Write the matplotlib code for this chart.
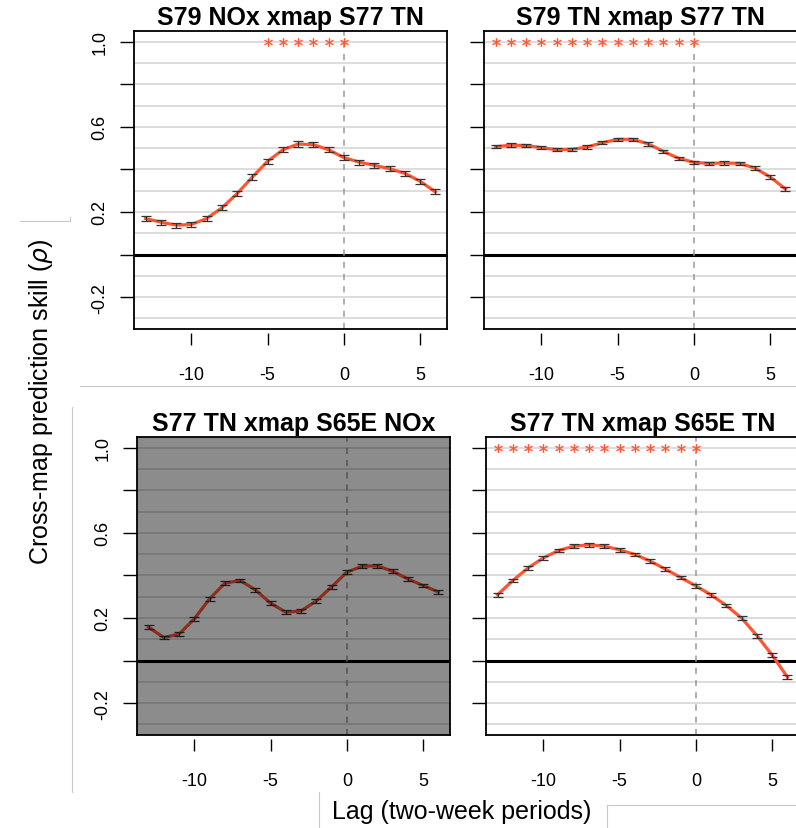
import numpy as np
import matplotlib
matplotlib.use("Agg")
import matplotlib.pyplot as plt
from matplotlib.patches import Rectangle
from matplotlib.lines import Line2D

plt.rcParams['font.family'] = ['Liberation Sans', 'DejaVu Sans']
plt.rcParams['axes.unicode_minus'] = False

# lags (two-week periods)
lags = list(range(-13, 7))

# cross-map skill for each panel
rho_nox79_tn77 = [0.169, 0.152, 0.138, 0.141, 0.169, 0.219, 0.286, 0.364, 0.438, 0.492,
                  0.519, 0.516, 0.492, 0.455, 0.434, 0.419, 0.403, 0.381, 0.344, 0.294]
rho_tn79_tn77 = [0.506, 0.514, 0.512, 0.502, 0.492, 0.494, 0.505, 0.525, 0.541, 0.541,
                 0.520, 0.484, 0.452, 0.433, 0.428, 0.430, 0.428, 0.406, 0.364, 0.308]
rho_tn77_nox65 = [0.156, 0.108, 0.124, 0.196, 0.290, 0.363, 0.376, 0.332, 0.269, 0.227,
                  0.233, 0.280, 0.346, 0.415, 0.443, 0.445, 0.419, 0.383, 0.352, 0.322]
rho_tn77_tn65 = [0.309, 0.376, 0.435, 0.482, 0.517, 0.537, 0.544, 0.537, 0.520, 0.498,
                 0.467, 0.429, 0.390, 0.350, 0.308, 0.258, 0.199, 0.117, 0.025, -0.078]

# error bar half-widths
err_nox79_tn77 = [0.012] * 20
err_tn79_tn77 = [0.008] * 20
err_tn77_nox65 = [0.009] * 20
err_tn77_tn65 = [0.009] * 20

# lags flagged as significant
sig_nox79_tn77 = [-5, -4, -3, -2, -1, 0]
sig_tn79_tn77 = list(range(-13, 1))
sig_tn77_nox65 = []
sig_tn77_tn65 = list(range(-13, 1))

titles = ['S79 NOx xmap S77 TN', 'S79 TN xmap S77 TN',
          'S77 TN xmap S65E NOx', 'S77 TN xmap S65E TN']

line_col = '#FF5533'
W, H = 796, 829
fig = plt.figure(figsize=(W / 100, H / 100), dpi=100)

boxes = [(134, 32), (484, 32), (137, 438), (486, 438)]
panels = [
    (rho_nox79_tn77, err_nox79_tn77, sig_nox79_tn77),
    (rho_tn79_tn77, err_tn79_tn77, sig_tn79_tn77),
    (rho_tn77_nox65, err_tn77_nox65, sig_tn77_nox65),
    (rho_tn77_tn65, err_tn77_tn65, sig_tn77_tn65),
]

for i, ((x0, y0), (rho, err, sig)) in enumerate(zip(boxes, panels)):
    ax = fig.add_axes([x0 / W, 1 - (y0 + 298) / H, 313 / W, 298 / H])
    ax.set_xlim(-13.76, 6.76)
    ax.set_ylim(-0.35, 1.05)
    for g in np.arange(-0.3, 1.01, 0.1):
        ax.axhline(g, color='#d3d3d3', lw=1.1, zorder=1)
    ax.axhline(0, color='black', lw=2.2, zorder=2)
    ax.axvline(0, color='#999999', lw=1.1, ls=(0, (4, 4)), zorder=2)
    ax.plot(lags, rho, color=line_col, lw=2.3, zorder=3)
    ax.errorbar(lags, rho, yerr=err, fmt='none', ecolor='#333333',
                elinewidth=0.9, capsize=3.5, capthick=0.9, zorder=4)
    if sig:
        ax.plot(sig, [1.0] * len(sig), ls='none', marker='$*$',
                ms=6, mew=0.3, color=line_col, zorder=4)

    ax.set_xticks([-10, -5, 0, 5])
    ax.set_yticks([-0.2, 0, 0.2, 0.4, 0.6, 0.8, 1.0])
    if i % 2 == 0:
        ax.set_yticklabels(['-0.2', '', '0.2', '', '0.6', '', '1.0'],
                           rotation=90, va='center')
    else:
        ax.set_yticklabels([])
    ax.tick_params(axis='x', length=8.6, width=1, pad=15, labelsize=13)
    ax.tick_params(axis='y', length=10, width=1, pad=8.5, labelsize=13)
    ax.spines['bottom'].set_position(('outward', 3))
    ax.spines['bottom'].set_visible(False)
    ax.plot([0, 1], [0, 0], transform=ax.transAxes, color='black',
            lw=1.3, clip_on=False, zorder=6)
    for s in ['left', 'top', 'right']:
        ax.spines[s].set_linewidth(1.3)
    ax.set_title(titles[i], fontsize=18, fontweight='bold', pad=5)
    if i == 2:
        ax.add_patch(Rectangle((0, 0), 1, 1, transform=ax.transAxes,
                               facecolor='black', alpha=0.45, zorder=5))

fig.text(41 / W, 1 - 402 / H, 'Cross-map prediction skill ($\\rho$)',
         rotation=90, ha='center', va='center', fontsize=18)
fig.text(462 / W, 1 - 812 / H, 'Lag (two-week periods)',
         ha='center', va='center', fontsize=18)

# faint panel-edge lines from the pasted layout
edge = '#c8c8c8'
for xs, ys in [([80, 796], [387, 387]), ([72, 72], [408, 793]),
               ([20, 70], [222, 222]), ([70, 70], [218, 222]),
               ([319, 319], [793, 829]), ([607, 796], [806, 806]),
               ([607, 607], [806, 829])]:
    fig.add_artist(Line2D([x / W for x in xs], [1 - y / H for y in ys],
                          color=edge, lw=0.8))

fig.savefig('out.png', dpi=100)
